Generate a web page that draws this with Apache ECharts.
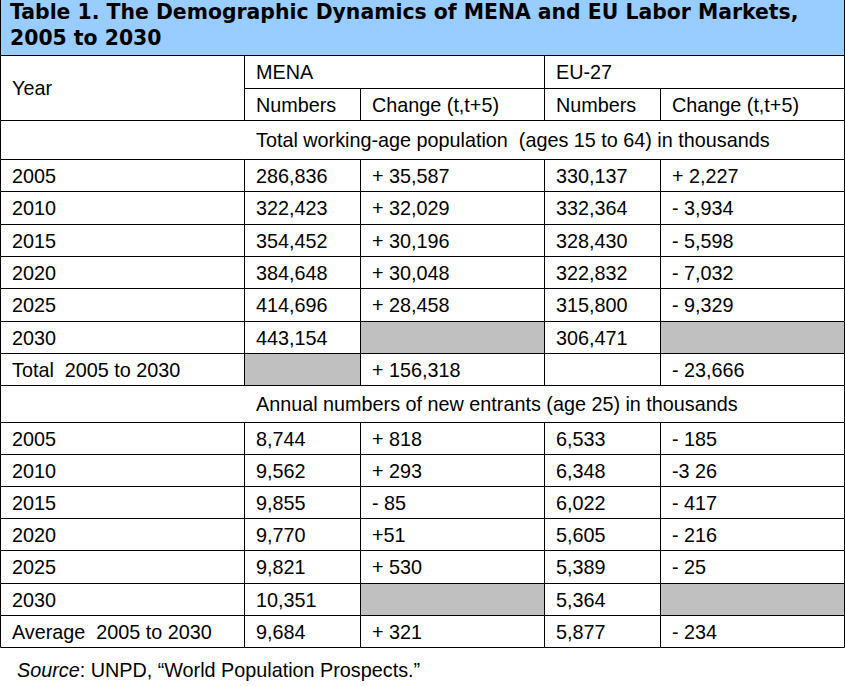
<!DOCTYPE html>
<html>
<head>
<meta charset="utf-8">
<script src="https://cdn.jsdelivr.net/npm/echarts@6/dist/echarts.min.js"></script>
<style>
html,body{margin:0;padding:0;background:#fff;}
#chart{width:845px;height:686px;}
</style>
</head>
<body>
<div id="chart"></div>
<script>
// ---- data (as printed in the table) ----
const tableTitle = 'Table 1. The Demographic Dynamics of MENA and EU Labor Markets,\n2005 to 2030';
const regions = ['MENA', 'EU-27'];
const subHeaders = ['Numbers', 'Change (t,t+5)'];
const sectionTitles = [
  'Total working-age population  (ages 15 to 64) in thousands',
  'Annual numbers of new entrants (age 25) in thousands'
];
const years = ['2005', '2010', '2015', '2020', '2025', '2030'];

const menaWorkNumbers = ['286,836', '322,423', '354,452', '384,648', '414,696', '443,154'];
const menaWorkChange  = ['+ 35,587', '+ 32,029', '+ 30,196', '+ 30,048', '+ 28,458', null];
const euWorkNumbers   = ['330,137', '332,364', '328,430', '322,832', '315,800', '306,471'];
const euWorkChange    = ['+ 2,227', '- 3,934', '- 5,598', '- 7,032', '- 9,329', null];
const workTotalLabel  = 'Total  2005 to 2030';
const workTotals      = [null, '+ 156,318', '', '- 23,666'];

const menaEntNumbers = ['8,744', '9,562', '9,855', '9,770', '9,821', '10,351'];
const menaEntChange  = ['+ 818', '+ 293', '- 85', '+51', '+ 530', null];
const euEntNumbers   = ['6,533', '6,348', '6,022', '5,605', '5,389', '5,364'];
const euEntChange    = ['- 185', '-3 26', '- 417', '- 216', '- 25', null];
const entAverageLabel = 'Average  2005 to 2030';
const entAverages     = ['9,684', '+ 321', '5,877', '- 234'];

const sourceNote = '{i|Source}: UNPD, \u201cWorld Population Prospects.\u201d';

// ---- layout (grid lines of the table, in axis units) ----
const colEdges = [0.5, 244.5, 360.5, 544.5, 660.5, 844.5];
const rowEdges = [-0.5, 55.5, 88.5, 120.5, 159.5, 191.5, 224.5, 256.5, 288.5, 321.5, 353.5,
                  385.5, 422.5, 454.5, 486.5, 518.5, 550.5, 583.5, 615.5, 647.5];
const PAD = 11.5;
const BODY_FAMILY = 'Liberation Sans, Arial, Helvetica, sans-serif';
const BODY_SIZE = 19.8;
const TITLE_FAMILY = 'DejaVu Sans, sans-serif';
const TITLE_SIZE = 20.4;
const BLUE = '#99ccff';
const GRAY = '#c0c0c0';

// ---- build cells from the data ----
const cells = [];
function cell(c0, c1, r0, r1, text, kind) {
  cells.push({c0, c1, r0, r1, text: text == null ? '' : text,
              kind: kind || (text === null ? 'gray' : 'body')});
}
cell(0, 5, 0, 1, tableTitle, 'title');
cell(0, 1, 1, 3, 'Year');
regions.forEach((r, g) => {
  cell(1 + 2 * g, 3 + 2 * g, 1, 2, r);
  subHeaders.forEach((s, k) => cell(1 + 2 * g + k, 2 + 2 * g + k, 2, 3, s));
});
function block(startRow, section, cols, endLabel, endVals) {
  cell(0, 5, startRow, startRow + 1, section, 'section');
  years.forEach((y, i) => {
    const r = startRow + 1 + i;
    cell(0, 1, r, r + 1, y);
    cols.forEach((arr, k) => cell(1 + k, 2 + k, r, r + 1, arr[i]));
  });
  const r = startRow + 1 + years.length;
  cell(0, 1, r, r + 1, endLabel);
  endVals.forEach((v, k) => cell(1 + k, 2 + k, r, r + 1, v));
}
block(3, sectionTitles[0], [menaWorkNumbers, menaWorkChange, euWorkNumbers, euWorkChange], workTotalLabel, workTotals);
block(11, sectionTitles[1], [menaEntNumbers, menaEntChange, euEntNumbers, euEntChange], entAverageLabel, entAverages);

const seriesData = cells.map(c => [colEdges[c.c0], rowEdges[c.r0], colEdges[c.c1], rowEdges[c.r1]]);

const chart = echarts.init(document.getElementById('chart'), null, {renderer: 'svg'});
chart.setOption({
  animation: false,
  title: {
    text: sourceNote,
    left: 12,
    top: 652,
    textStyle: {
      fontFamily: BODY_FAMILY, fontSize: BODY_SIZE, fontWeight: 'normal',
      color: '#000', lineHeight: 26,
      rich: { i: { fontStyle: 'italic', fontFamily: BODY_FAMILY, fontSize: BODY_SIZE, color: '#000', lineHeight: 26 } }
    }
  },
  grid: {left: 0, right: 0, top: 0, bottom: 0},
  xAxis: {type: 'value', min: 0, max: 845, show: false},
  yAxis: {type: 'value', min: 0, max: 686, inverse: true, show: false},
  series: [{
    type: 'custom',
    clip: false,
    encode: {x: [0, 2], y: [1, 3]},
    data: seriesData,
    renderItem: function (params, api) {
      const c = cells[params.dataIndex];
      const p0 = api.coord([api.value(0), api.value(1)]);
      const p1 = api.coord([api.value(2), api.value(3)]);
      const isTitle = c.kind === 'title';
      const fill = isTitle ? BLUE : (c.kind === 'gray' ? GRAY : '#fff');
      const children = [{
        type: 'rect',
        shape: {x: p0[0], y: p0[1], width: p1[0] - p0[0], height: p1[1] - p0[1]},
        style: {fill: fill, stroke: '#000', lineWidth: 1}
      }];
      if (c.text) {
        const tx = isTitle ? p0[0] + 9.5 :
                   (c.kind === 'section' ? api.coord([colEdges[1], 0])[0] + PAD : p0[0] + PAD);
        children.push({
          type: 'text',
          x: tx,
          y: (p0[1] + p1[1]) / 2 + (isTitle ? -2.5 : 0),
          style: {
            text: c.text,
            fill: '#000',
            fontFamily: isTitle ? TITLE_FAMILY : BODY_FAMILY,
            fontSize: isTitle ? TITLE_SIZE : BODY_SIZE,
            fontWeight: isTitle ? 'bold' : 'normal',
            lineHeight: isTitle ? 26 : 22,
            align: 'left',
            verticalAlign: 'middle'
          }
        });
      }
      return {type: 'group', children: children};
    }
  }]
});
</script>
</body>
</html>
